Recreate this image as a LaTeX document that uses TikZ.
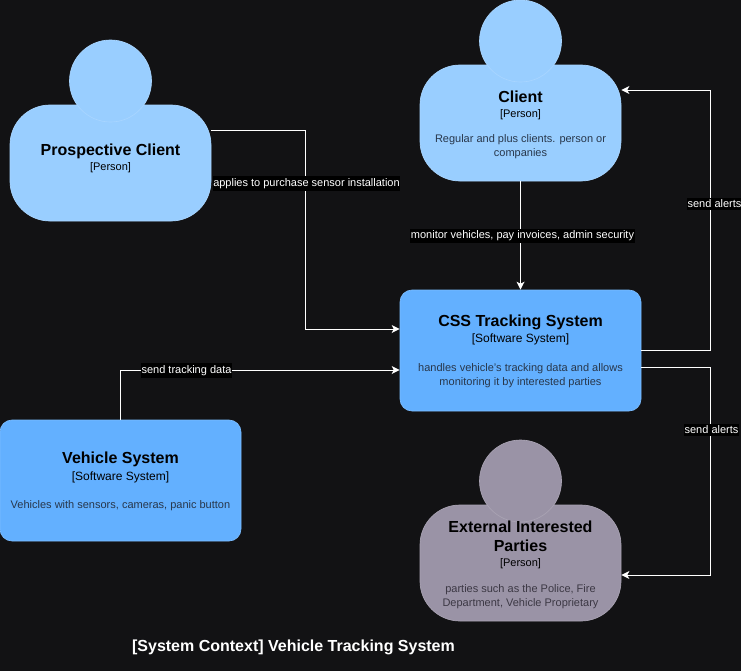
\documentclass[tikz,border=0pt]{standalone}
\usepackage{fontspec}
\setmainfont{Liberation Sans}
\usetikzlibrary{arrows.meta, positioning}
\definecolor{pagedark}{RGB}{18,18,20}
\definecolor{personblue}{RGB}{153,206,255}
\definecolor{systemblue}{RGB}{99,176,255}
\definecolor{externalgrey}{RGB}{154,147,166}
\definecolor{descblue}{RGB}{40,55,75}
\definecolor{descgrey}{RGB}{60,56,68}
\tikzset{
  basebox/.style={rectangle, draw=#1!85!white, fill=#1, line width=0.5pt, inner sep=0pt},
  personbox/.style={basebox=#1, rounded corners=30pt, minimum width=150.75pt, minimum height=87pt},
  systembox/.style={basebox=systemblue, rounded corners=9pt, minimum width=180.75pt, minimum height=90.75pt},
  headcircle/.style={circle, draw=#1!85!white, fill=#1, line width=0.5pt, inner sep=0pt, minimum size=61.5pt},
  nametext/.style={anchor=base, align=center, inner sep=0pt, text=black, font=\fontsize{12}{14.2}\selectfont\bfseries},
  kindtext/.style={anchor=base, inner sep=0pt, text=black, font=\fontsize{8.25}{10}\selectfont},
  systemkind/.style={kindtext, font=\fontsize{9}{11}\selectfont},
  desctext/.style={anchor=base, align=center, inner sep=0pt, text=#1, font=\fontsize{8.25}{10}\selectfont},
  linklabel/.style={fill=black, text=white, inner xsep=0.5pt, inner ysep=1.5pt, font=\fontsize{8.25}{10}\selectfont},
  arrow/.style={->, >={Stealth[length=6pt,width=6pt,inset=1.5pt]}, draw=white, line width=0.75pt}
}
\begin{document}
\begin{tikzpicture}[x=0.75pt,y=-0.75pt]
  \useasboundingbox (0,0) rectangle (741,671);
  \fill[pagedark] (0,0) rectangle (741,671);
  \node[personbox=personblue] (prospect) at (110.5,163) {};
  \node[headcircle=personblue] (prospecthead) at (110.5,81) {};
  \node[personbox=personblue] (client) at (520.5,123) {};
  \node[headcircle=personblue] (clienthead) at (520.5,41) {};
  \node[systembox] (css) at (520.5,350.5) {};
  \node[systembox] (vehicle) at (120.5,480.5) {};
  \node[personbox=externalgrey] (external) at (520.5,563) {};
  \node[headcircle=externalgrey] (externalhead) at (520.5,481) {};
  \node[nametext] (prospectname) at (110.5,155) {Prospective Client};
  \node[kindtext] (prospectkind) at (110.5,170) {[Person]};
  \node[nametext] (clientname) at (520.5,102) {Client};
  \node[kindtext] (clientkind) at (520.5,117) {[Person]};
  \node[desctext=descblue] (clientdesc) at (520.5,156) {Regular and plus clients. person or\\companies};
  \node[nametext] (cssname) at (520.5,326) {CSS Tracking System};
  \node[systemkind] (csskind) at (520.5,342) {[Software System]};
  \node[desctext=descblue] (cssdesc) at (520.5,385) {handles vehicle's tracking data and allows\\monitoring it by interested parties};
  \node[nametext] (vehiclename) at (120.5,463) {Vehicle System};
  \node[systemkind] (vehiclekind) at (120.5,480) {[Software System]};
  \node[desctext=descblue] (vehicledesc) at (120.5,508) {Vehicles with sensors, cameras, panic button};
  \node[nametext] (externalname) at (520.5,551) {External Interested\\Parties};
  \node[kindtext] (externalkind) at (520.5,566) {[Person]};
  \node[desctext=descgrey] (externaldesc) at (520.5,606) {parties such as the Police, Fire\\Department, Vehicle Proprietary};
  \coordinate (applyout) at (305.5,130);
  \coordinate (applyin) at (305.5,329);
  \coordinate (trackup) at (120.5,370);
  \coordinate (alertout) at (710.5,350);
  \coordinate (alertin) at (710.5,90);
  \coordinate (partyout) at (710.5,367);
  \coordinate (partyin) at (710.5,575);
  \draw[arrow] (prospect.east |- applyout) -- (applyout) -- (applyin) -- (css.west |- applyin);
  \draw[arrow] (client.south) -- (css.north);
  \draw[arrow] (vehicle.north) -- (trackup) -- (css.west |- trackup);
  \draw[arrow] (css.east |- alertout) -- (alertout) -- (alertin) -- (client.east |- alertin);
  \draw[arrow] (css.east |- partyout) -- (partyout) -- (partyin) -- (external.east |- partyin);
  \node[linklabel] (applylabel) at (306.5,183.5) {applies to purchase sensor installation};
  \node[linklabel] (monitorlabel) at (522.5,236) {monitor vehicles, pay invoices, admin security};
  \node[linklabel] (tracklabel) at (186.5,370.5) {send tracking data};
  \node[linklabel] (alertlabel) at (714.5,204) {send alerts};
  \node[linklabel] (partylabel) at (711.5,430) {send alerts};
  \node[anchor=base, inner sep=0pt, text=white, font=\fontsize{12}{14}\selectfont\bfseries] (contexttitle) at (293.5,651) {[System Context] Vehicle Tracking System};
\end{tikzpicture}
\end{document}
